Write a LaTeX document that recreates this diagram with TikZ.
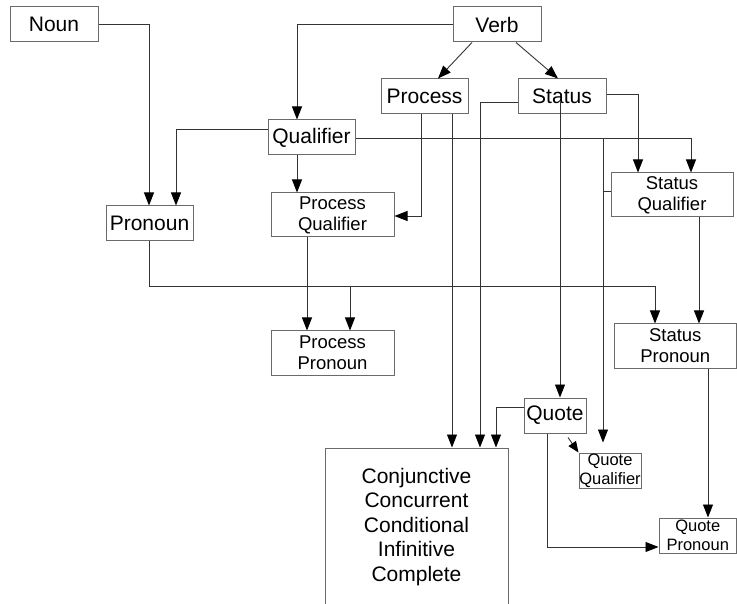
\documentclass[tikz,border=0pt]{standalone}
\usepackage{fontspec}
\setmainfont{Liberation Sans}
\usetikzlibrary{arrows.meta}
\definecolor{boxgrey}{HTML}{6A6A6A}
\definecolor{linegrey}{HTML}{333333}
\begin{document}
\begin{tikzpicture}[x=1pt,y=-1pt,
  box/.style={draw=boxgrey, line width=1pt, rectangle, inner sep=0pt,
    fill=white, align=center, text=black},
  big/.style={font=\fontsize{21}{24}\selectfont},
  mid/.style={font=\fontsize{18.5}{21}\selectfont},
  small/.style={font=\fontsize{16.5}{19}\selectfont},
  conn/.style={draw=linegrey, line width=0.9pt},
  arr/.style={conn, -{Triangle[length=13pt,width=10pt,black]}},
  arrs/.style={conn, -{Triangle[length=11pt,width=9pt,black]}}]
\useasboundingbox (0,0) rectangle (737,604);

% word-class boxes
\node[box,big,minimum width=88pt,minimum height=35pt] (noun) at (54,24.5) {Noun};
\node[box,big,minimum width=88pt,minimum height=35pt] (verb) at (497,24.5) {Verb};
\node[box,big,minimum width=87pt,minimum height=35pt] (process) at (424.5,96.5) {Process};
\node[box,big,minimum width=88pt,minimum height=35pt] (status) at (562,96.5) {Status};
\node[box,big,minimum width=87pt,minimum height=35pt] (qualifier) at (311.5,137.5) {Qualifier};
\node[box,big,minimum width=87pt,minimum height=35pt] (pronoun) at (149.5,223.5) {Pronoun};
\node[box,mid,minimum width=123pt,minimum height=44pt] (pq) at (332.5,215) {Process\\Qualifier};
\node[box,mid,minimum width=122pt,minimum height=44pt] (sq) at (672,195) {Status\\Qualifier};
\node[box,mid,minimum width=123pt,minimum height=44pt] (pp) at (332.5,353) {Process\\Pronoun};
\node[box,mid,minimum width=122.5pt,minimum height=44pt] (sp) at (675.25,346) {Status\\Pronoun};
\node[box,big,minimum width=62pt,minimum height=35pt] (quote) at (555,415.5) {Quote};
\node[box,small,minimum width=62pt,minimum height=35pt] (qq) at (610,470.5) {Quote\\Qualifier};
\node[box,small,minimum width=77.5pt,minimum height=35pt] (qp) at (697.75,535.5) {Quote\\Pronoun};
\node[box,font=\fontsize{21}{24.5}\selectfont,minimum width=183pt,minimum height=158pt] (forms) at (416.5,527)
  {Conjunctive\\Concurrent\\Conditional\\Infinitive\\Complete};

% connectors
\draw[arr] (noun.east) -| ([xshift=-0.5pt]pronoun.north);
\draw[arr] (verb.west) -| ([xshift=-14.5pt]qualifier.north);
\draw[arr] ([yshift=8.5pt]qualifier.west) -| ([xshift=26.5pt]pronoun.north);
\draw[arr] ([xshift=-14.5pt]qualifier.south) -- ([xshift=-35.5pt]pq.north);
\draw[arr] ([yshift=-0.5pt]qualifier.east) -| ([xshift=19pt]sq.north);
\draw[arr] ([yshift=-0.5pt]qualifier.east) -| ([xshift=-7pt,yshift=10pt]qq.north);
\draw[conn] ([yshift=4pt]sq.west) -- ([yshift=4pt,xshift=-8pt]sq.west);
\draw[arr] ([yshift=2.5pt]status.east) -| ([xshift=-34pt]sq.north);
\draw[arr] ([xshift=-3.5pt]process.south) |- ([yshift=-1pt]pq.east);
\draw[arr] ([xshift=27.5pt]process.south) -- ([xshift=35.5pt]forms.north);
\draw[arr] ([yshift=-5.5pt]status.west) -| ([xshift=63.5pt]forms.north);
\draw[arr] ([xshift=-2pt,yshift=-5.5pt]status.center) -- ([xshift=5pt]quote.north);
\path ([xshift=-0.5pt]pronoun.south) ++(0,45) coordinate (pbus);
\draw[arr] ([xshift=-0.5pt]pronoun.south) -- (pbus) -| ([xshift=-20.25pt]sp.north);
\draw[arr] ([xshift=17.5pt]pp.north |- pbus) -- ([xshift=17.5pt]pp.north);
\draw[arr] ([xshift=-25.5pt]pq.south) -- ([xshift=-25.5pt]pp.north);
\draw[arr] ([xshift=27pt]sq.south) -- ([xshift=23.75pt]sp.north);
\draw[arr] ([xshift=32.75pt]sp.south) -- ([xshift=10.25pt]qp.north);
\draw[arr] ([yshift=8.5pt]quote.west) -| ([xshift=79.5pt]forms.north);
\draw[arr] ([xshift=-8pt]quote.south) |- ([yshift=-11.5pt]qp.west);
\draw[arrs] ([xshift=13pt,yshift=-4pt]quote.south) -- (qq.north west);
\draw[arr] ([xshift=-25pt]verb.south) -- ([xshift=13.5pt]process.north);
\draw[arr] ([xshift=19pt]verb.south) -- ([xshift=-4pt]status.north);
\end{tikzpicture}
\end{document}
